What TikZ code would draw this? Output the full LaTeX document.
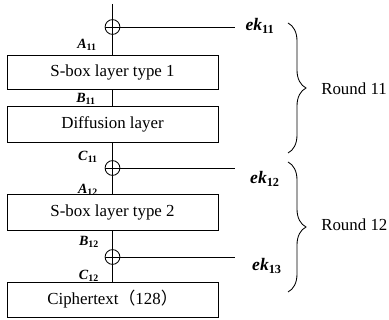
\documentclass[tikz,border=0pt]{standalone}
\usepackage{fontspec}
\setmainfont{Liberation Serif}
\newfontfamily\cjk{Noto Sans CJK SC}
\usetikzlibrary{positioning,calc,decorations.pathreplacing}
\tikzset{
  layer/.style={draw, line width=0.6pt, minimum width=5.275cm, align=center, inner sep=0pt, font=\fontsize{12}{14}\selectfont},
  xorop/.style={draw, circle, line width=0.6pt, minimum size=0.37cm, inner sep=0pt,
    path picture={\draw[line width=0.6pt] (path picture bounding box.north) -- (path picture bounding box.south)
      (path picture bounding box.west) -- (path picture bounding box.east);}},
  wire/.style={line width=0.6pt},
  lbl/.style={inner sep=0pt, font=\fontsize{10}{11}\selectfont\bfseries},
  keylbl/.style={inner sep=0pt, font=\fontsize{12.5}{14}\selectfont\bfseries},
  rbrace/.style={decorate, decoration={brace, amplitude=0.45cm}, line width=0.6pt},
  roundlbl/.style={anchor=west, inner sep=0pt, font=\fontsize{12}{14}\selectfont}
}
\begin{document}
\begin{tikzpicture}[x=0.025cm, y=-0.025cm]
  \useasboundingbox (0,0) rectangle (389,320);
  % data path
  \coordinate (in) at (112.5,4);
  \node[xorop] (x1) at (112.5,27) {};
  \node[layer, minimum height=0.85cm] (sbox1) at (112.5,72) {S-box layer type 1};
  \node[layer, minimum height=0.9cm] (diff) at (112.5,124) {Diffusion layer};
  \node[xorop] (x2) at (112.5,168) {};
  \node[layer, minimum height=0.9cm] (sbox2) at (112.5,212) {S-box layer type 2};
  \node[xorop] (x3) at (112.5,257) {};
  \node[layer, minimum height=0.875cm] (ct) at (112.5,299.5) {Ciphertext{\cjk （}128{\cjk ）}};
  \draw[wire] (in) -- (x1);
  \draw[wire] (x1) -- (sbox1);
  \draw[wire] (sbox1) -- (diff);
  \draw[wire] (diff) -- (x2);
  \draw[wire] (x2) -- (sbox2);
  \draw[wire] (sbox2) -- (x3);
  \draw[wire] (x3) -- (ct);
  % intermediate values
  \node[lbl] (a11) at (87,45) {\textit{A}\textsubscript{11}};
  \node[lbl] (b11) at (86,99) {\textit{B}\textsubscript{11}};
  \node[lbl] (c11) at (88,157) {\textit{C}\textsubscript{11}};
  \node[lbl] (a12) at (88,190) {\textit{A}\textsubscript{12}};
  \node[lbl] (b12) at (89,242) {\textit{B}\textsubscript{12}};
  \node[lbl] (c12) at (89,276) {\textit{C}\textsubscript{12}};
  % round keys
  \coordinate (k1) at (235,27);
  \coordinate (k2) at (235,168);
  \coordinate (k3) at (235,257);
  \draw[wire] (x1) -- (k1);
  \draw[wire] (x2) -- (k2);
  \draw[wire] (x3) -- (k3);
  \node[keylbl] (ek11) at (260,26) {\textit{ek}\textsubscript{11}};
  \node[keylbl] (ek12) at (265,179) {\textit{ek}\textsubscript{12}};
  \node[keylbl] (ek13) at (267,266) {\textit{ek}\textsubscript{13}};
  % rounds
  \coordinate (r11a) at (288,23);
  \coordinate (r11b) at (288,153);
  \coordinate (r12a) at (288,162);
  \coordinate (r12b) at (288,292);
  \draw[rbrace] (r11a) -- (r11b);
  \draw[rbrace] (r12a) -- (r12b);
  \node[roundlbl] (round11) at (321,89) {Round 11};
  \node[roundlbl] (round12) at (321,225) {Round 12};
\end{tikzpicture}
\end{document}
